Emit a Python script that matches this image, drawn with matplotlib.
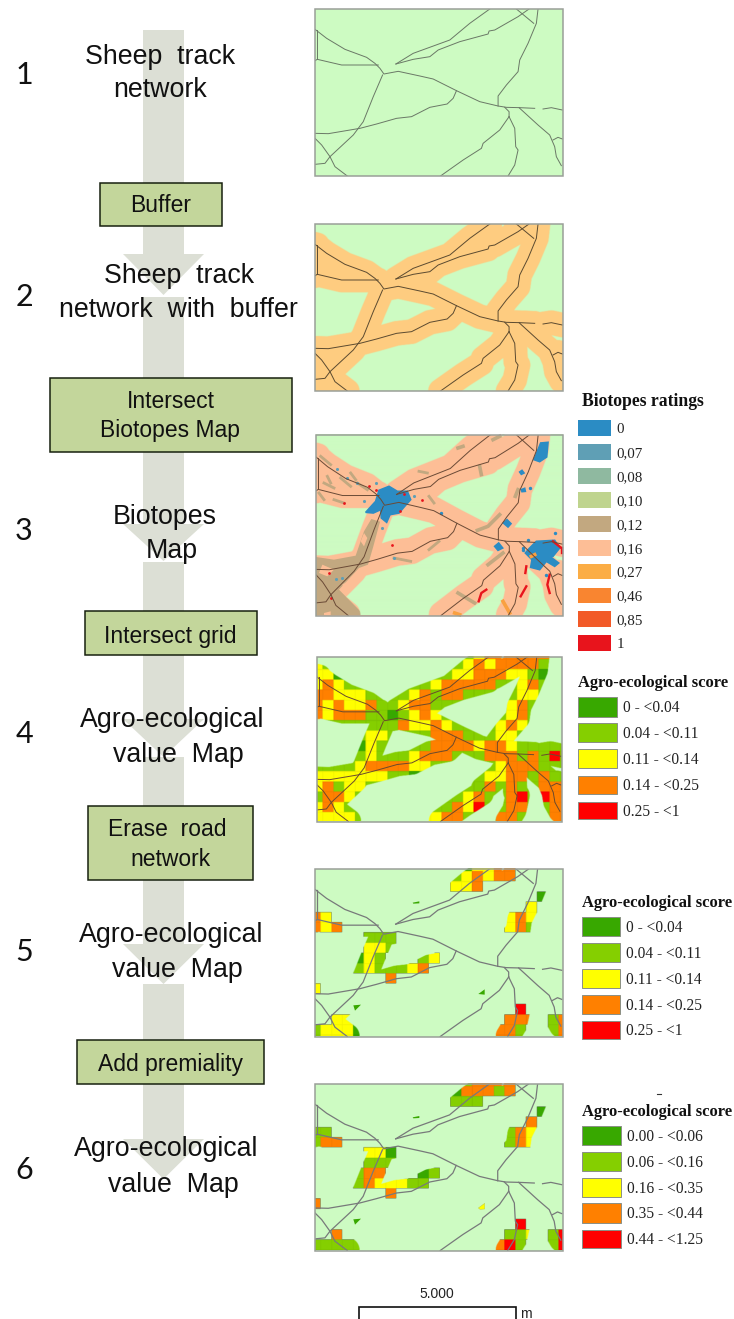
import numpy as np
import matplotlib
matplotlib.use("Agg")
import matplotlib.pyplot as plt
from matplotlib.patches import Rectangle, Polygon
from matplotlib.colors import to_rgb

# sheep tracks (frame is 15..760 x 27..528 in these units)
tracks = [
    [(15,88),(50,115),(105,148),(170,172),(195,190),(210,205),(222,222),(265,214),(330,228),(370,237),(440,272),(510,305),(565,318),(590,322),(630,323),(675,325)],
    [(700,327),(725,323),(758,330)],
    [(22,90),(22,178)],
    [(15,182),(22,178),(95,195),(205,195)],
    [(218,225),(190,290),(160,365),(130,405),(60,470),(45,490),(15,493)],
    [(15,400),(55,401),(150,385),(200,372),(260,355),(305,350),(360,322),(412,312),(430,295),(440,272)],
    [(15,415),(35,435),(60,470),(75,500),(112,528)],
    [(258,192),(310,160),(420,120),(480,70),(540,27)],
    [(258,192),(310,178),(360,170),(385,150),(450,125),(535,102),(538,93),(555,90),(625,50),(658,27)],
    [(620,27),(672,70)],
    [(685,27),(680,70),(655,130),(630,180),(625,215),(590,255),(565,288),(565,318)],
    [(585,322),(598,335),(598,350)],
    [(598,350),(570,390),(520,430),(515,445),(460,480),(392,528)],
    [(598,350),(615,385),(618,440),(625,450),(615,495),(595,528)],
    [(628,323),(685,375),(720,405),(735,440),(740,470),(755,497)],
    [(730,420),(745,412),(758,417)],
]
# parts of the buffer whose track lies outside the frame
hidden_tracks = [[(680,-10),(770,-12)], [(0,545),(60,550)]]

# frames of the six maps: x0, x1, y0, y1
map_frames = [(315,563,9,176), (315,563,224,391), (316,563,435,615.5),
              (316.5,561.5,656.5,821.5), (315,562.5,869,1036.5), (315,562.5,1084,1250.5)]

# score classes per grid cell, d/g/y/o/r (dot = nothing read, or no cell)
grid4 = [
    "."*15+"y"+"oooooo"+"y"+".",
    "yg"+"."*11+"gyoyoooogd"+".",
    "yyd"+"."*9+"gyyoooyygd"+"..",
    "yoyg"+"....."+"ggy"+"ooooog"+"."+"yog"+"..",
    "ooyyyg"+".."+"gyog"+"oogg"+"..."+"yy"+"...",
    "oyoyyogg"+"yoog"+"g"+"....."+"yog"+"...",
    "oyooo"+"ggdg"+"yoy"+"......"+"yo"+"....",
    "....."+"ggg"+"oyyo"+"yg"+"..."+"yoy"+"....",
    "...."+"gyyg"+"..."+"o"+"oog"+"."+"gyyg"+"....",
    "...."+"dyg"+"...."+"o"+"ooo"+"y"+"oo"+"y"+"gggg"+".",
    "...."+"gyg"+"."+"gyoo"+"oggg"+"ooo"+"gogr"+"g",
    "...."+"yoooo"+"yyg"+"....."+"yooo"+"ggg",
    "yyyyyyy"+"ggdg"+"....."+"yyoogog"+"g",
    "yogyyg"+"."*9+"gogog"+".ooo",
    "gooyg"+"."*9+"yog"+"."+"orgroo",
    "yoyg"+"."*9+"oyrg"+"."+"oo"+"."+"goo",
    "yyyyg"+"."*5+"yyoog"+".."+"oog"+".."+"oo",
]
grid5 = [
    "."*14+"dyyoo"+"."*5,
    "."*13+"gyoyoo"+"."*5,
    "."*13+"yyo"+"."*8,
    "."*21+"d"+"..",
    "."*20+"y"+"...",
    "oy"+"."*16+"yoy"+"...",
    "oyo"+"."*15+"yog"+"...",
    "."*5+"ggg"+"."*16,
    "."*5+"yyg"+"."*16,
    "...."+"dyg"+"..."+"gy"+"."*12,
    "...."+"gyggg"+"yo"+"."*13,
    "."*7+"o"+"."*16,
    "y"+"."*23,
    "."*24,
    "."*19+"r"+"."*4,
    "..yy"+"."*14+"ooo"+"."+"go",
    "gyyyd"+"."*12+"oog"+".."+"go",
]
grid6 = [
    "."*14+"goooo"+"."*5,
    "."*13+"dooogo"+"."*5,
    "."*13+"ggg"+"."*8,
    "."*21+"d"+"..",
    "."*20+"o"+"...",
    "gg"+"."*16+"goy"+"...",
    "goo"+"."*15+"goy"+"...",
    "."*5+"yyd"+"."*16,
    "."*5+"ggg"+"."*16,
    "...."+"goo"+"..."+"dg"+"."*12,
    "...."+"goyyyg"+"g"+"."*13,
    "."*7+"o"+"."*16,
    "o"+"."*23,
    "."*24,
    "."*19+"r"+"."*4,
    "..o"+"."*15+"ggy"+"."+"gr",
    "ggggg"+"."*12+"org"+".."+"gr",
]

tan_left = [[(6,372),(60,380),(125,368),(150,295),(172,258),(198,266),(178,340),(162,395),(135,405),(75,470),(150,546),(6,546)]]
tan_strokes_left = [[(20,70),(50,95)], [(30,150),(60,165)], [(80,135),(110,160)], [(60,200),(90,210)],
                    [(130,150),(160,170)], [(15,180),(30,200)], [(315,115),(340,120)], [(345,190),(360,210)],
                    [(345,350),(375,325)], [(240,375),(290,385)], [(40,130),(50,150)], [(110,120),(125,140)]]
tan_strokes_right = [[(118,292),(150,280),(185,245)], [(150,395),(195,360)], [(60,480),(110,510)],
                     [(125,100),(130,125)], [(165,20),(185,10)], [(240,170),(232,190)], [(60,45),(75,40)]]
peach_holes_left = [[(85,455),(110,440),(130,440),(120,460),(90,470)], [(25,395),(60,410),(40,430),(15,420)],
                    [(150,300),(160,315),(150,340),(140,325)], [(30,540),(50,535),(50,546),(30,546)]]
blue_left = [[(155,238),(185,205),(195,172),(225,160),(250,175),(280,175),(290,200),(272,220),(255,240),(228,245),(218,268),(202,255),(200,230),(178,240)]]
blue_right = [[(275,345),(295,325),(350,322),(365,345),(345,370),(335,370),(362,390),(350,400),(325,385),(305,410),(278,403),(282,380),(262,360)],
              [(288,80),(308,30),(330,28),(326,72),(305,86)],
              [(196,270),(207,260),(219,272),(210,282)], [(170,340),(182,330),(194,345),(180,352)],
              [(245,117),(252,112),(258,120),(250,124)], [(250,170),(260,166),(262,175),(252,176)]]
blue_dots_left = [(70,108),(100,135),(130,150),(185,150),(65,437),(85,435),(205,285),(240,375),(150,205),(300,190)]
blue_dots_right = [(275,165),(10,240),(255,345),(270,320),(350,300),(325,425),(255,350)]
red_left = [(165,160),(185,170),(258,235),(325,200),(50,495),(270,182),(45,420),(235,335),(90,210)]
red_strokes_right = [[(335,425),(328,455),(335,480)], [(122,505),(130,480),(145,470)], [(248,490),(265,460)],
                     [(262,420),(265,400)], [(345,325),(370,345)], [(372,345),(372,360)]]
orange_strokes_right = [[(195,505),(215,540)], [(50,540),(65,545)], [(280,370),(290,365)]]

# extra slivers on maps 5 and 6, zoom coordinates
slivers5 = [[(308,128),(328,124),(328,130),(310,131)], [(505,402),(524,388),(524,404)], [(130,436),(153,434),(135,452)]]
slivers6_green = [[(308,772),(328,768),(328,774),(310,775)], [(130,1078),(153,1076),(135,1094)]]
slivers6_yellow = [[(505,1044),(524,1030),(524,1047),(510,1048)]]

biotope_labels = ["0","0,07","0,08","0,10","0,12","0,16","0,27","0,46","0,85","1"]
biotope_colors = ["#2B8CC4","#5F9FB5","#8FB9A0","#BFD48E","#C2A880","#FDBE96","#FBAD45","#F98530","#F25A28","#E8141C"]
score_labels = ["0 - <0.04","0.04 - <0.11","0.11 - <0.14","0.14 - <0.25","0.25 - <1"]
score_labels6 = ["0.00 - <0.06","0.06 - <0.16","0.16 - <0.35","0.35 - <0.44","0.44 - <1.25"]
score_colors = {"d":"#38A800","g":"#85CF00","y":"#FFFF00","o":"#FF8000","r":"#FF0000"}

GREEN = "#CDFBC2"
BUFFER = "#FECC80"
PEACH = "#FDBE96"
TAN = "#C2A880"
BLUE = "#2B8CC4"
BOX = "#C3D69B"
ARROW = "#DCDFD5"

fig = plt.figure(figsize=(7.34,13.19), dpi=100)
ax = fig.add_axes([0,0,1,1])
ax.set_xlim(0,734)
ax.set_ylim(1319,0)
ax.axis("off")

#---- flow arrow on the left ----
shafts = [(30,254),(297,524),(562,719),(757,944),(984,1139)]
heads = [(254,295),(524,561),(719,757),(944,984),(1139,1179)]
for top,bottom in shafts:
    ax.add_patch(Rectangle((143,top),41,bottom-top,fc=ARROW,ec="none",zorder=1))
for top,tip in heads:
    ax.add_patch(Polygon([(123,top),(204,top),(163.5,tip)],fc=ARROW,ec="none",zorder=1))

boxes = [(99.7,182.7,222,226),(50,377.7,291.7,451.7),(85,611,256.7,655),(88.3,806,253.3,880),(77.3,1040.3,264.3,1084)]
for x0,y0,x1,y1 in boxes:
    ax.add_patch(Rectangle((x0,y0),x1-x0,y1-y0,fc=BOX,ec="#17210F",lw=1.1,zorder=2))

flow_texts = [("Sheep  track",160.5,57),("network",160.5,90),("Sheep  track",178.7,276),("network  with  buffer",178,310),
              ("Biotopes",165,517),("Map",171.7,551),("Agro-ecological",171.7,720),("value  Map",178.8,755),
              ("Agro-ecological",170.8,935),("value  Map",177.5,970),("Agro-ecological",166.5,1149),("value  Map",173,1185)]
for s,x,y in flow_texts:
    ax.text(x,y,s,family="Liberation Sans",fontsize=19.3,ha="center",va="center",color="#111111",zorder=3)
box_texts = [("Buffer",161,206),("Intersect",171,401),("Biotopes Map",170.5,431),("Intersect grid",170.7,636),
             ("Erase  road",167,830),("network",170,860),("Add premiality",170,1064)]
for s,x,y in box_texts:
    ax.text(x,y,s,family="Liberation Sans",fontsize=16.5,ha="center",va="center",color="#111111",zorder=3)
for s,y in zip("123456",[75,297,531,734,952,1170]):
    ax.text(24,y,s,family="Lato",fontsize=22,ha="center",va="center",color="#111111",zorder=3)

#---- maps ----
def to_px(line,frame):
    x0,x1,y0,y1 = frame
    p = np.array(line,float)
    return x0+(p[:,0]-15)/745*(x1-x0), y0+(p[:,1]-27)/501*(y1-y0)

def buffer_mask(frame,radius=37.0):
    # coverage of the buffer, distance to the tracks on a 2x pixel lattice
    x0,x1,y0,y1 = frame
    nx,ny = int((x1-x0)*2),int((y1-y0)*2)
    X,Y = np.meshgrid(15+(np.arange(nx)+.5)/nx*745, 27+(np.arange(ny)+.5)/ny*501)
    dist = np.full(X.shape,1e9)
    for line in tracks+hidden_tracks:
        p = np.array(line,float)
        for a,b in zip(p[:-1],p[1:]):
            d = b-a
            t = np.clip(((X-a[0])*d[0]+(Y-a[1])*d[1])/(d@d),0,1)
            dist = np.minimum(dist,np.hypot(X-a[0]-t*d[0],Y-a[1]-t*d[1]))
    return np.clip(radius+.5-dist,0,1)

def show_image(rgba,frame,z):
    x0,x1,y0,y1 = frame
    ax.imshow(rgba,extent=(x0,x1,y1,y0),origin="upper",aspect="auto",interpolation="bilinear",zorder=z)

def solid_layer(color,alpha):
    rgba = np.zeros(alpha.shape+(4,))
    rgba[...,:3] = to_rgb(color)
    rgba[...,3] = alpha
    return rgba

def grid_layer(rows,frame,mask,fill=None):
    ny,nx = mask.shape
    px,py = (np.arange(nx)+.5)/2+5.3,(np.arange(ny)+.5)/2+7.2
    col,row = (px/10.8).astype(int),(py/10.2).astype(int)
    rgba = np.zeros((ny,nx,4))
    for j in range(ny):
        r = rows[min(row[j],len(rows)-1)]
        for i in range(nx):
            c = r[min(col[i],len(r)-1)]
            if c==".":
                c = fill
            if c is None:
                continue
            rgb = np.array(to_rgb(score_colors[c]))
            if (px[i]%10.8)<.6 or (py[j]%10.2)<.6:
                rgb = rgb*.93
            rgba[j,i,:3] = rgb
            rgba[j,i,3] = mask[j,i]
    return rgba

def frame_clip(frame):
    x0,x1,y0,y1 = frame
    return Rectangle((x0,y0),x1-x0,y1-y0,transform=ax.transData)

def draw_tracks(frame,color,lw,z=8):
    for line in tracks:
        x,y = to_px(line,frame)
        l, = ax.plot(x,y,color=color,lw=lw,solid_joinstyle="round",zorder=z)
        l.set_clip_path(frame_clip(frame))

def draw_frame(frame):
    x0,x1,y0,y1 = frame
    ax.add_patch(Rectangle((x0,y0),x1-x0,y1-y0,fc="none",ec="#9A9F98",lw=1.1,zorder=9))

def crop_left(pts):
    p = np.array(pts,float)
    return np.column_stack([314+p[:,0]/3,433+p[:,1]/3])

def crop_right(pts):
    p = np.array(pts,float)
    return np.column_stack([438+p[:,0]/3,433+p[:,1]/3])

def zoom_low(pts):
    p = np.array(pts,float)
    return np.column_stack([310+p[:,0]/3,860+p[:,1]/3])

masks = [buffer_mask(f) for f in map_frames]

for k,f in enumerate(map_frames):
    ax.add_patch(Rectangle((f[0],f[2]),f[1]-f[0],f[3]-f[2],fc=GREEN,ec="none",zorder=4))

# map 1
draw_tracks(map_frames[0],"#6A7866",0.7)
# map 2
show_image(solid_layer(BUFFER,masks[1]),map_frames[1],5)
draw_tracks(map_frames[1],"#5B4A30",0.7)

# map 3: peach, patches, then green over everything outside the buffer
f3 = map_frames[2]
ax.add_patch(Rectangle((f3[0],f3[2]),f3[1]-f3[0],f3[3]-f3[2],fc=PEACH,ec="none",zorder=4.5))
for poly in tan_left:
    ax.add_patch(Polygon(crop_left(poly),fc=TAN,ec="none",zorder=4.6))
for poly in peach_holes_left:
    ax.add_patch(Polygon(crop_left(poly),fc=PEACH,ec="none",zorder=4.7))
for s in tan_strokes_left:
    p = crop_left(s)
    ax.plot(p[:,0],p[:,1],color=TAN,lw=2.0,zorder=4.7)
for s in tan_strokes_right:
    p = crop_right(s)
    ax.plot(p[:,0],p[:,1],color=TAN,lw=2.6,zorder=4.7)
show_image(solid_layer(GREEN,1-masks[2]),f3,5)
for poly in blue_left:
    ax.add_patch(Polygon(crop_left(poly),fc=BLUE,ec=BLUE,lw=1.2,zorder=6))
for poly in blue_right:
    ax.add_patch(Polygon(crop_right(poly),fc=BLUE,ec=BLUE,lw=1.2,zorder=6))
p = crop_left(blue_dots_left)
ax.scatter(p[:,0],p[:,1],s=5,color="#5F9FB5",lw=0,zorder=6)
p = crop_right(blue_dots_right)
ax.scatter(p[:,0],p[:,1],s=6,color=BLUE,lw=0,zorder=6)
p = crop_left(red_left)
ax.scatter(p[:,0],p[:,1],s=4,color="#E8141C",lw=0,zorder=6.5)
for s in red_strokes_right:
    p = crop_right(s)
    ax.plot(p[:,0],p[:,1],color="#E8141C",lw=1.7,zorder=6.5)
for s in orange_strokes_right:
    p = crop_right(s)
    ax.plot(p[:,0],p[:,1],color="#F9A040",lw=2.6,zorder=6.5)
draw_tracks(f3,"#6A4A36",0.7)

# maps 4 to 6: grid classes inside the buffer
show_image(grid_layer(grid4,map_frames[3],masks[3],fill="g"),map_frames[3],5)
draw_tracks(map_frames[3],"#6A4A2E",0.7)
show_image(grid_layer(grid5,map_frames[4],masks[4]),map_frames[4],5)
show_image(grid_layer(grid6,map_frames[5],masks[5]),map_frames[5],5)
for poly in slivers5:
    ax.add_patch(Polygon(zoom_low(poly),fc=score_colors["d"],ec="none",zorder=6))
for poly in slivers6_green:
    ax.add_patch(Polygon(zoom_low(poly),fc=score_colors["d"],ec="none",zorder=6))
for poly in slivers6_yellow:
    ax.add_patch(Polygon(zoom_low(poly),fc=score_colors["y"],ec="#B8C840",lw=.3,zorder=6))
draw_tracks(map_frames[4],"#77797A",0.9)
draw_tracks(map_frames[5],"#77797A",0.9)
for f in map_frames:
    draw_frame(f)

#---- legends ----
serif = "Liberation Serif"
ax.text(582,402,"Biotopes ratings",family=serif,weight="bold",fontsize=12.7,va="center",color="#111111")
bio_y = [(420,436),(444,460),(468,484),(492,508),(515.7,531.7),(540,555.7),(563.7,579),(587.7,603),(611,626.7),(635,650.7)]
for (y0,y1),lab,col in zip(bio_y,biotope_labels,biotope_colors):
    ax.add_patch(Rectangle((578.3,y0),32.4,y1-y0,fc=col,ec="none"))
    ax.text(616.7,(y0+y1)/2+1.5,lab,family=serif,fontsize=10.8,va="center",color="#222222")

def score_legend(tx,ty,sx0,sx1,txt,ys,labels):
    ax.text(tx,ty+1.5,"Agro-ecological score",family=serif,weight="bold",fontsize=11.9,va="center",color="#111111")
    for (y0,y1),lab,key in zip(ys,labels,"dgyor"):
        ax.add_patch(Rectangle((sx0,y0),sx1-sx0,y1-y0,fc=score_colors[key],ec="#8A8F85",lw=.7))
        ax.text(txt,(y0+y1)/2+1.5,lab,family=serif,fontsize=11.2,va="center",color="#222222")

score_legend(578.3,681.7,578,617,623.3,[(696.7,716.7),(723,742),(749,768),(775.7,794),(801.7,819)],score_labels)
score_legend(581.7,901.7,581.7,620,626,[(916.7,936),(943,962),(969,988),(995,1014),(1021,1038.7)],score_labels)
score_legend(582.3,1110,582.3,621,627.3,[(1126,1145),(1151.7,1170.7),(1177.7,1196.7),(1203,1222.7),(1230,1248)],score_labels6)
ax.plot([657,661],[1094,1094],color="#333333",lw=.8)

#---- scale bar ----
ax.text(436.7,1294,"5.000",family="Liberation Sans",fontsize=10,ha="center",va="center",color="#222222")
ax.add_patch(Rectangle((359,1307.3),156.7,20,fc="white",ec="#111111",lw=1.2))
ax.text(520,1314,"m",family="Liberation Sans",fontsize=10,va="center",color="#222222")

ax.set_xlim(0,734)
ax.set_ylim(1319,0)
fig.savefig("out.png",dpi=100,facecolor="white")
